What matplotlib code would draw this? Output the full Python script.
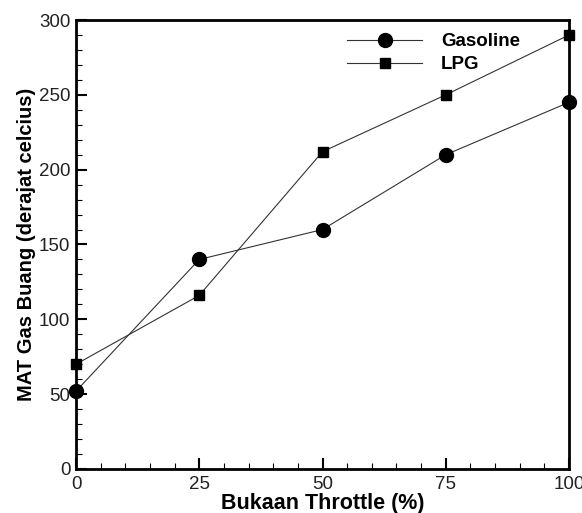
import matplotlib
matplotlib.use("Agg")
import matplotlib.pyplot as plt
from matplotlib.ticker import MultipleLocator

throttle = [0, 25, 50, 75, 100]
gasoline = [52, 140, 160, 210, 245]
lpg = [70, 116, 212, 250, 290]

plt.rcParams['font.family'] = ['Liberation Sans', 'DejaVu Sans']

fig = plt.figure(figsize=(5.82, 5.13), dpi=100)
ax = fig.add_axes([0.1306, 0.0858, 0.8471, 0.8752])

ax.plot(throttle, gasoline, color='#333333', lw=0.8, marker='o', ms=10,
        mfc='black', mec='black', label='Gasoline', clip_on=False, zorder=3)
ax.plot(throttle, lpg, color='#333333', lw=0.8, marker='s', ms=7,
        mfc='black', mec='black', label='LPG', clip_on=False, zorder=3)

ax.set_xlim(0, 100)
ax.set_ylim(0, 300)
ax.xaxis.set_major_locator(MultipleLocator(25))
ax.xaxis.set_minor_locator(MultipleLocator(5))
ax.yaxis.set_major_locator(MultipleLocator(50))
ax.yaxis.set_minor_locator(MultipleLocator(10))
ax.tick_params(which='both', direction='in', top=False, right=False,
               labelsize=13.5, colors='#222222')
ax.tick_params(axis='x', which='both', pad=5)
ax.tick_params(axis='y', which='both', pad=4)
ax.tick_params(which='major', length=8, width=1.5, color='black')
ax.tick_params(which='minor', length=4, width=0.8, color='black')
for s in ax.spines.values():
    s.set_linewidth(2)

ax.set_xlabel('Bukaan Throttle (%)', fontsize=15.5, fontweight='bold', labelpad=0)
ax.set_ylabel('MAT Gas Buang (derajat celcius)', fontsize=14.5, fontweight='bold', labelpad=2)

leg = ax.legend(loc='upper right', bbox_to_anchor=(0.935, 1.008), frameon=False,
                handlelength=4.0, prop={'weight': 'bold', 'size': 13.5},
                labelspacing=0.3, handletextpad=1.0)

fig.savefig('out.png', dpi=100)
